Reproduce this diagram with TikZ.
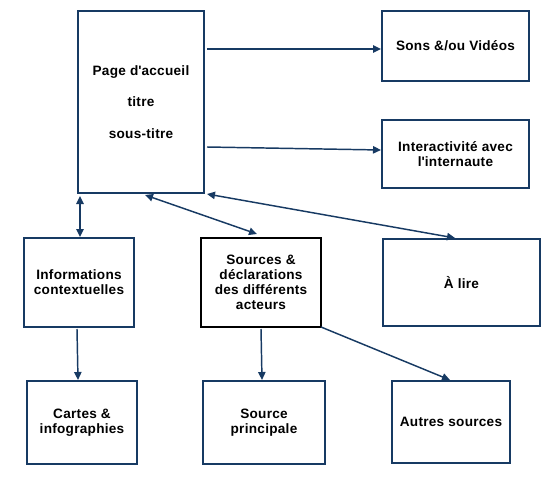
\documentclass[tikz,border=0pt]{standalone}
\usepackage{fontspec}
\setmainfont{Liberation Sans}[LetterSpace=2]
\usetikzlibrary{arrows.meta,calc}
\definecolor{navy}{RGB}{23,58,99}
\begin{document}
\begin{tikzpicture}[x=0.75pt,y=-0.75pt,
  box/.style={draw=navy,line width=1.6pt,rectangle,inner sep=0pt,outer sep=0pt,
    align=center,font=\fontsize{10.2}{11.25}\selectfont\bfseries,text=black},
  blackbox/.style={box,draw=black,line width=2pt},
  arr/.style={draw=navy,line width=1.1pt,-{Triangle[length=6pt,width=5.5pt]}},
  darr/.style={draw=navy,line width=1.1pt,{Triangle[length=6pt,width=5.5pt]}-{Triangle[length=6pt,width=5.5pt]}}]
\useasboundingbox (0,0) rectangle (559,481);
\node[box,minimum width=126*0.75pt,minimum height=182*0.75pt] (page) at (141,102)
  {Page d\textquotesingle accueil\\[12.4pt]titre\\[12.4pt]sous-titre};
\node[box,minimum width=147*0.75pt,minimum height=70*0.75pt] (sons) at (455.5,46) {Sons \&/ou Vidéos};
\node[box,minimum width=147*0.75pt,minimum height=68*0.75pt] (inter) at (455.5,154) {Interactivité avec\\l\textquotesingle internaute};
\node[box,minimum width=110*0.75pt,minimum height=89*0.75pt] (info) at (79,282.5) {Informations\\contextuelles};
\node[blackbox,minimum width=120*0.75pt,minimum height=89*0.75pt] (src) at (261,282.5) {Sources \&\\déclarations\\des différents\\acteurs};
\node[box,minimum width=157*0.75pt,minimum height=87*0.75pt] (lire) at (461.5,282.5) {À lire};
\node[box,minimum width=110*0.75pt,minimum height=83*0.75pt] (cartes) at (82,422.5) {Cartes \&\\infographies};
\node[box,minimum width=122*0.75pt,minimum height=83*0.75pt] (princ) at (264,422.5) {Source\\principale};
\node[box,minimum width=118*0.75pt,minimum height=82*0.75pt] (autres) at (451,422) {Autres sources};
\draw[arr] ($(page.north east)+(3,38)$) -- ($(sons.north west)+(-1,38)$);
\draw[arr] ($(page.north east)+(3,136)$) -- ($(inter.north west)+(-1,30)$);
\draw[darr] ($(page.south west)+(2,3)$) -- ($(info.north west)+(56,-1)$);
\draw[darr] ($(page.south west)+(67,2)$) -- ($(src.north west)+(56,-4)$);
\draw[darr] ($(page.south east)+(3,1)$) -- ($(lire.north west)+(72,-1)$);
\draw[arr] ($(info.south west)+(53,2)$) -- ($(cartes.north west)+(51,-1)$);
\draw[arr] ($(src.south west)+(60,2)$) -- ($(princ.north west)+(59,-1)$);
\draw[arr] (src.south east) -- ($(autres.north west)+(58,-1)$);
\end{tikzpicture}
\end{document}
